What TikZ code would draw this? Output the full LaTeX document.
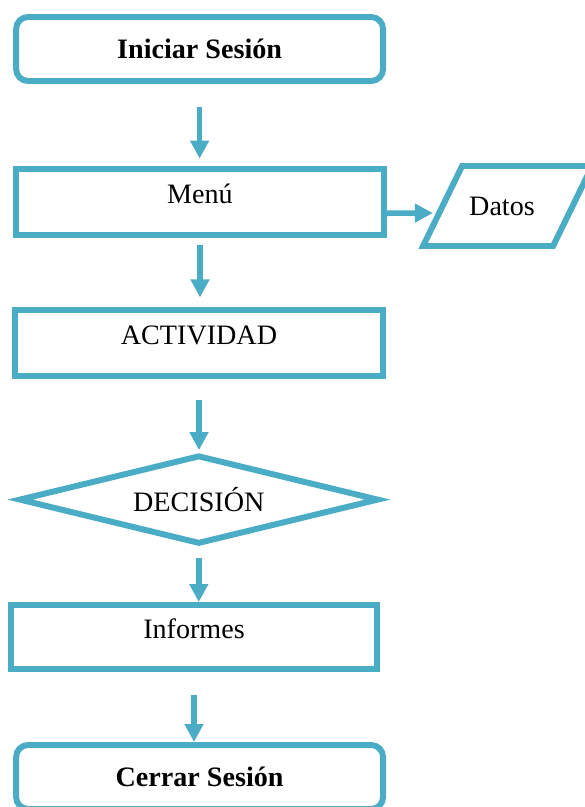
\documentclass[tikz,border=0pt]{standalone}
\usepackage{fontspec}
\setmainfont{Liberation Serif}
\usepackage{xcolor}
\usetikzlibrary{arrows.meta,shapes.geometric}
\definecolor{fcaqua}{RGB}{75,172,198}

\begin{document}
\begin{tikzpicture}[
  font=\fontsize{20}{24}\selectfont,
  term/.style={draw=fcaqua,line width=4.25pt,rounded corners=0.3cm,minimum width=9.175cm,
               minimum height=1.6cm,font=\fontsize{20}{24}\selectfont\bfseries},
  proc/.style={draw=fcaqua,line width=4.25pt,minimum width=9.2cm,minimum height=1.65cm,
               text height=0.54cm,text depth=0.46cm},
  cond/.style={draw=fcaqua,line width=4.25pt,diamond,aspect=4,inner sep=0pt,
               minimum width=9.0cm,minimum height=2.225cm},
  % parallelogram: size comes from the text box, angles kept
  io/.style={draw=fcaqua,line width=4.25pt,trapezium,trapezium left angle=64,
             trapezium right angle=116,inner sep=0pt,align=center,
             text width=2.275cm,text height=1.225cm,text depth=0.775cm},
  flow/.style={-{Triangle[width=0.45cm,length=0.45cm]},draw=fcaqua,line width=4pt}
]
  \useasboundingbox (0,0) rectangle (14.6,-20.175);

  \node[term] (inicio) at (4.99,-1.225) {Iniciar Sesión};
  \node[proc] (menu) at (5.0,-5.04) {Menú};
  \node[io] (datos) at (12.69,-5.15) {\hspace*{-0.28cm}Datos};
  \node[proc] (actividad) at (4.975,-8.575) {ACTIVIDAD};
  \node[cond] (decision) at (4.97,-12.49) {DECISIÓN};
  \node[proc,minimum width=9.15cm,minimum height=1.6cm] (informes) at (4.85,-15.925) {Informes};
  \node[term] (cerrar) at (4.99,-19.425) {Cerrar Sesión};

  % main flow, top to bottom
  \draw[flow,shorten <=0.575cm,shorten >=0.175cm] (inicio.south) -- (inicio.south |- menu.north);
  \draw[flow,shorten <=0.175cm,shorten >=0.24cm] (menu.south) -- (menu.south |- actividad.north);
  \draw[flow,shorten <=0.525cm,shorten >=0.05cm] (actividad.south) -- (actividad.south |- decision.north);
  \draw[flow,shorten <=0.275cm] (decision.south) -- (decision.south |- informes.north);
  \draw[flow,shorten <=0.575cm] (informes.south) -- (informes.south |- cerrar.north);

  % side output
  \draw[flow] ([yshift=-0.29cm]menu.east) -- ([xshift=-0.16cm,yshift=-0.175cm]datos.west);
\end{tikzpicture}
\end{document}
